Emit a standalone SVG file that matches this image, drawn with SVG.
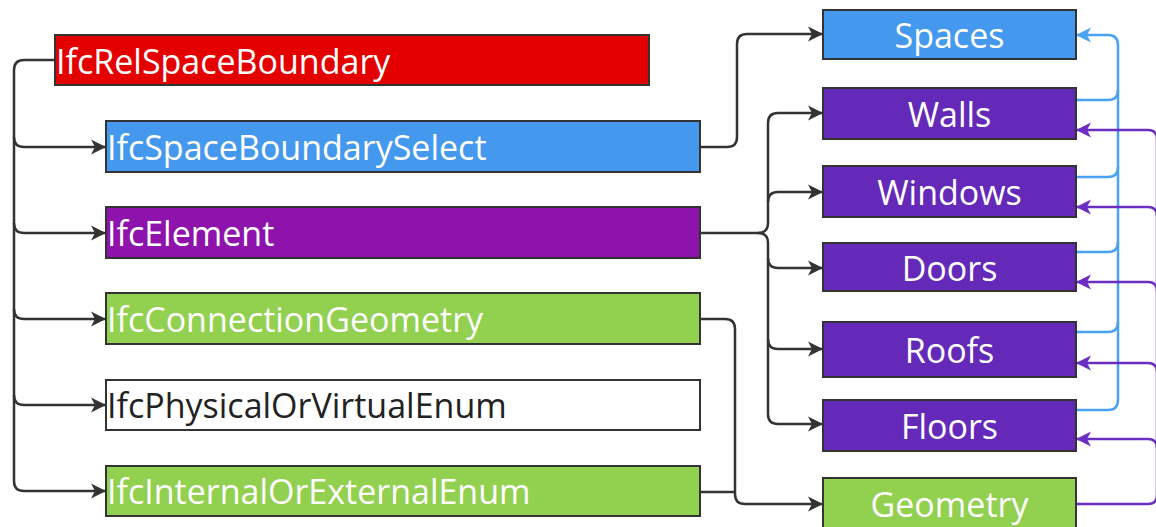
<svg xmlns="http://www.w3.org/2000/svg" width="1156" height="527" viewBox="0 0 1156 527">
  <style>
    .box { stroke: #333333; stroke-width: 2; }
    .lbl { font-family: "Open Sans", "Noto Sans", "DejaVu Sans", sans-serif; font-size: 34px; fill: #ffffff; }
    .left { text-anchor: start; }
    .mid { text-anchor: middle; }
    .dark { fill: #222222; }
    .wire { fill: none; stroke-width: 2.5; stroke-linejoin: round; }
    .k { stroke: #333333; }
    .b { stroke: #4aa2f2; }
    .p { stroke: #6a2fc2; }
  </style>
  <defs>
    <marker id="arrK" markerUnits="userSpaceOnUse" markerWidth="18" markerHeight="18" refX="16" refY="9" orient="auto">
      <path d="M1,1.5 L16,9 L1,16.5 L5,9 Z" fill="#333333"/>
    </marker>
    <marker id="arrB" markerUnits="userSpaceOnUse" markerWidth="18" markerHeight="18" refX="16" refY="9" orient="auto">
      <path d="M1,1.5 L16,9 L1,16.5 L5,9 Z" fill="#4aa2f2"/>
    </marker>
    <marker id="arrP" markerUnits="userSpaceOnUse" markerWidth="18" markerHeight="18" refX="16" refY="9" orient="auto">
      <path d="M1,1.5 L16,9 L1,16.5 L5,9 Z" fill="#6a2fc2"/>
    </marker>
  </defs>

  <!-- connectors -->
  <g id="connectors">
    <!-- IfcRelSpaceBoundary trunk to its attributes -->
    <path class="wire k" d="M55,60 H24 Q14,60 14,70 V481 Q14,491 24,491 H106" marker-end="url(#arrK)"/>
    <path class="wire k" d="M14,137 Q14,147 24,147 H106" marker-end="url(#arrK)"/>
    <path class="wire k" d="M14,223 Q14,233 24,233 H106" marker-end="url(#arrK)"/>
    <path class="wire k" d="M14,309 Q14,319 24,319 H106" marker-end="url(#arrK)"/>
    <path class="wire k" d="M14,395 Q14,405 24,405 H106" marker-end="url(#arrK)"/>

    <!-- IfcSpaceBoundarySelect to Spaces -->
    <path class="wire k" d="M700,147 H727 Q737,147 737,137 V44 Q737,34 747,34 H823" marker-end="url(#arrK)"/>

    <!-- IfcElement to element types -->
    <path class="wire k" d="M700,233 H758 Q768,233 768,223 V123 Q768,113 778,113 H823" marker-end="url(#arrK)"/>
    <path class="wire k" d="M768,202 Q768,192 778,192 H823" marker-end="url(#arrK)"/>
    <path class="wire k" d="M758,233 Q768,233 768,243 V414 Q768,424 778,424 H823" marker-end="url(#arrK)"/>
    <path class="wire k" d="M768,258 Q768,268 778,268 H823" marker-end="url(#arrK)"/>
    <path class="wire k" d="M768,339 Q768,349 778,349 H823" marker-end="url(#arrK)"/>

    <!-- geometry attributes to Geometry -->
    <path class="wire k" d="M700,319 H725 Q735,319 735,329 V494 Q735,504 745,504 H823" marker-end="url(#arrK)"/>
    <path class="wire k" d="M700,492 H735"/>

    <!-- element types back to Spaces -->
    <path class="wire b" d="M1076,410 H1108 Q1118,410 1118,400 V45 Q1118,35 1108,35 H1076" marker-end="url(#arrB)"/>
    <path class="wire b" d="M1076,100 H1108 Q1118,100 1118,90"/>
    <path class="wire b" d="M1076,177 H1108 Q1118,177 1118,167"/>
    <path class="wire b" d="M1076,252 H1108 Q1118,252 1118,242"/>
    <path class="wire b" d="M1076,332 H1108 Q1118,332 1118,322"/>

    <!-- Geometry to element types -->
    <path class="wire p" d="M1076,504 H1148 Q1157,504 1157,495 V139 Q1157,130 1148,130 H1076" marker-end="url(#arrP)"/>
    <path class="wire p" d="M1157,216 Q1157,207 1148,207 H1076" marker-end="url(#arrP)"/>
    <path class="wire p" d="M1157,291 Q1157,282 1148,282 H1076" marker-end="url(#arrP)"/>
    <path class="wire p" d="M1157,372 Q1157,363 1148,363 H1076" marker-end="url(#arrP)"/>
    <path class="wire p" d="M1157,448 Q1157,439 1148,439 H1076" marker-end="url(#arrP)"/>
  </g>

  <!-- left column -->
  <g id="IfcRelSpaceBoundary">
    <rect class="box" x="55" y="35" width="594" height="50" fill="#e50000"/>
    <text class="lbl left" x="56" y="74">IfcRelSpaceBoundary</text>
  </g>
  <g id="IfcSpaceBoundarySelect">
    <rect class="box" x="106" y="121" width="594" height="51" fill="#4499ee"/>
    <text class="lbl left" x="107" y="160">IfcSpaceBoundarySelect</text>
  </g>
  <g id="IfcElement">
    <rect class="box" x="106" y="207" width="594" height="51" fill="#8e12ac"/>
    <text class="lbl left" x="107" y="246">IfcElement</text>
  </g>
  <g id="IfcConnectionGeometry">
    <rect class="box" x="106" y="293" width="594" height="51" fill="#92d050"/>
    <text class="lbl left" x="107" y="332">IfcConnectionGeometry</text>
  </g>
  <g id="IfcPhysicalOrVirtualEnum">
    <rect class="box" x="106" y="380" width="594" height="50" fill="#ffffff"/>
    <text class="lbl left dark" x="107" y="418">IfcPhysicalOrVirtualEnum</text>
  </g>
  <g id="IfcInternalOrExternalEnum">
    <rect class="box" x="106" y="466" width="594" height="50" fill="#92d050"/>
    <text class="lbl left" x="107" y="504">IfcInternalOrExternalEnum</text>
  </g>

  <!-- right column -->
  <g id="Spaces">
    <rect class="box" x="823" y="10" width="253" height="49" fill="#4499ee"/>
    <text class="lbl mid" x="949.5" y="48">Spaces</text>
  </g>
  <g id="Walls">
    <rect class="box" x="823" y="88" width="253" height="51" fill="#6429b9"/>
    <text class="lbl mid" x="949.5" y="127">Walls</text>
  </g>
  <g id="Windows">
    <rect class="box" x="823" y="166" width="253" height="51" fill="#6429b9"/>
    <text class="lbl mid" x="949.5" y="205">Windows</text>
  </g>
  <g id="Doors">
    <rect class="box" x="823" y="243" width="253" height="48" fill="#6429b9"/>
    <text class="lbl mid" x="949.5" y="281">Doors</text>
  </g>
  <g id="Roofs">
    <rect class="box" x="823" y="322" width="253" height="55" fill="#6429b9"/>
    <text class="lbl mid" x="949.5" y="363">Roofs</text>
  </g>
  <g id="Floors">
    <rect class="box" x="823" y="400" width="253" height="51" fill="#6429b9"/>
    <text class="lbl mid" x="949.5" y="439">Floors</text>
  </g>
  <g id="Geometry">
    <rect class="box" x="823" y="478" width="253" height="60" fill="#92d050"/>
    <text class="lbl mid" x="949.5" y="517">Geometry</text>
  </g>
</svg>
